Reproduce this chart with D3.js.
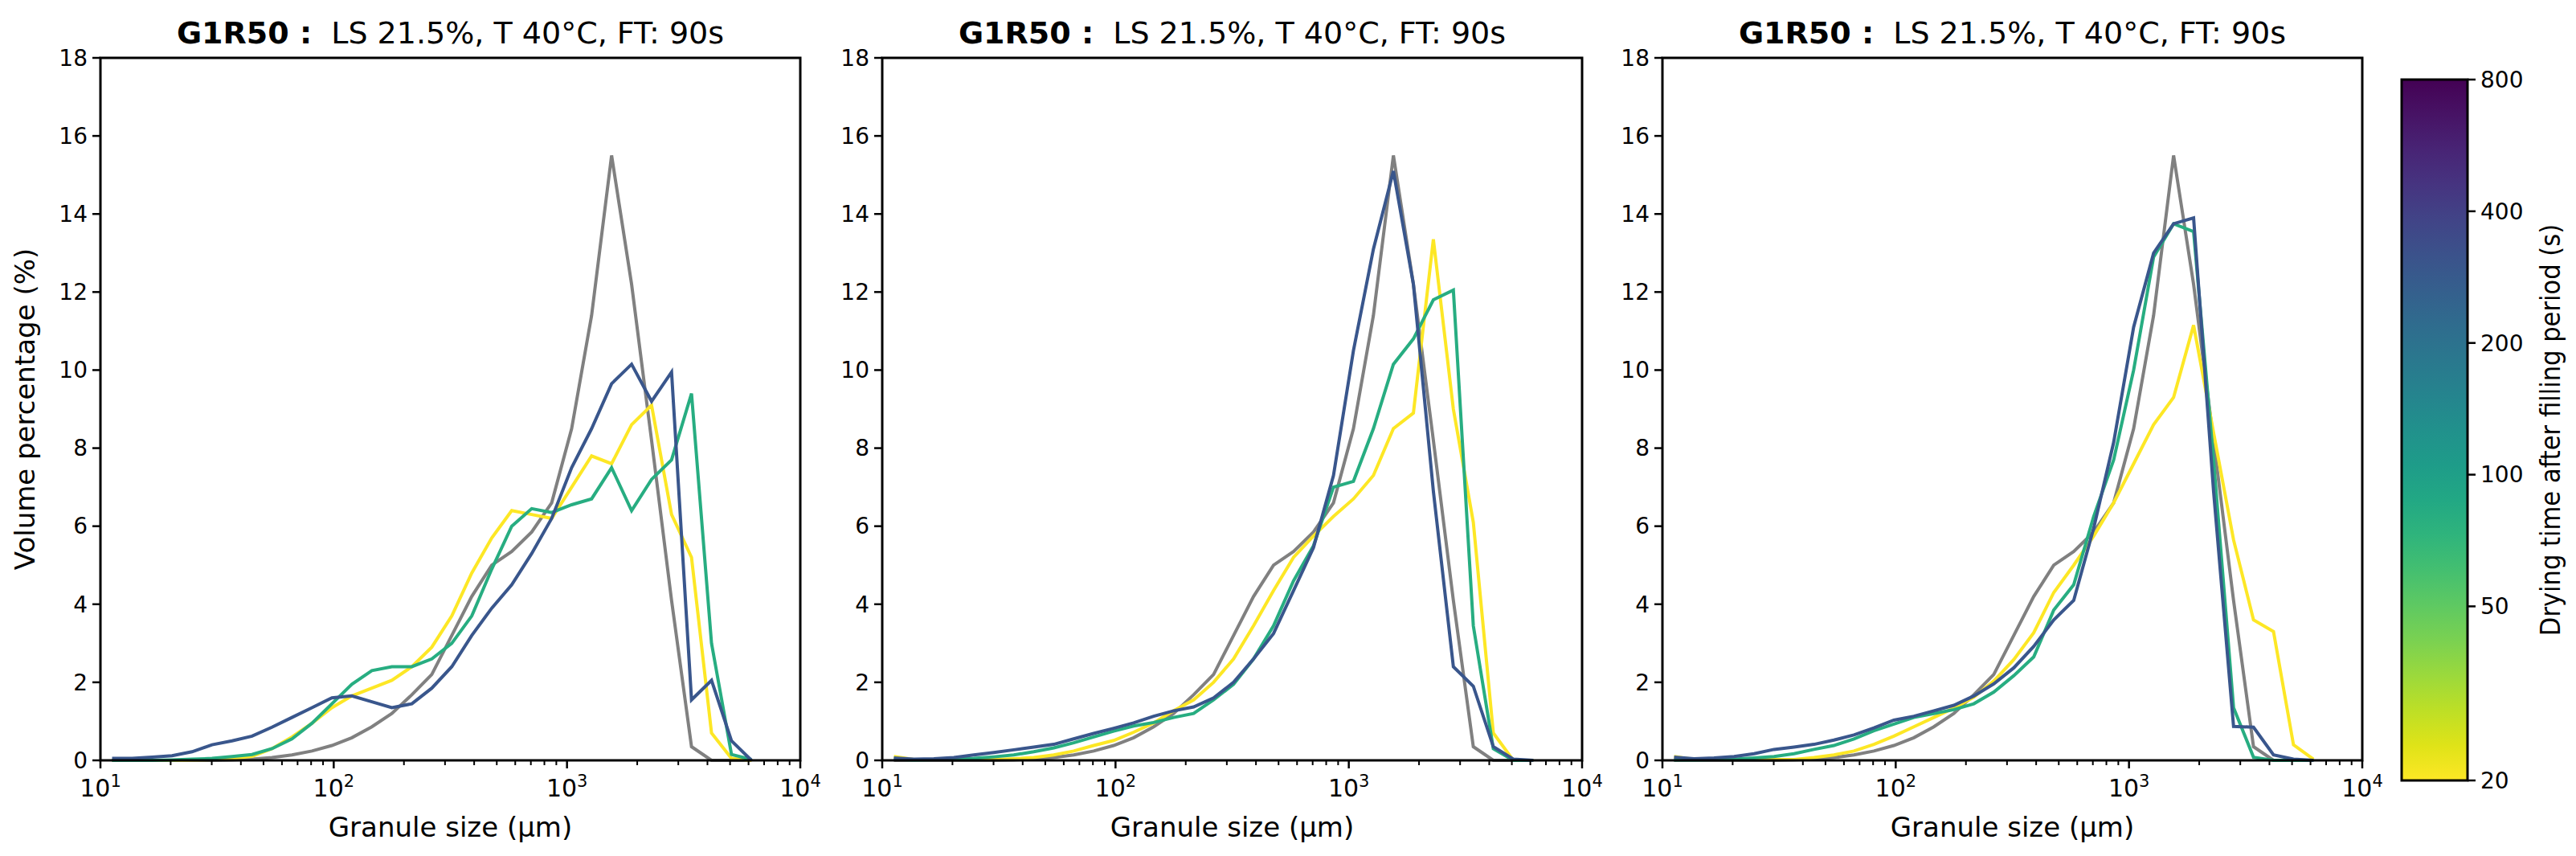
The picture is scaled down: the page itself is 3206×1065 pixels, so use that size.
<!DOCTYPE html>
<html>
<head>
<meta charset="utf-8">
<script src="https://cdn.jsdelivr.net/npm/d3@7"></script>
<style>
  body { margin: 0; background: #fff; }
  text { font-family: "DejaVu Sans", sans-serif; }
</style>
</head>
<body>
<svg id="chart" width="3206" height="1065"></svg>
<script>
// granule size bins (µm)
var sizes = [11.22, 13.67, 16.65, 20.28, 24.70, 30.08, 36.64, 44.63, 54.36, 66.21, 80.64,
  98.22, 119.6, 145.7, 177.5, 216.2, 263.3, 320.7, 390.6, 475.8, 579.5, 705.8, 859.7,
  1047, 1275, 1553, 1892, 2304, 2807, 3418, 4164, 5071, 6177];

// drying times of the coloured series (s)
var dryTimes = [20, 80, 300];

// reference curve (gray), same in every panel
var grayRef = [0, 0, 0, 0, 0, 0, 0.01, 0.03, 0.07, 0.14, 0.24, 0.38, 0.58, 0.86, 1.2, 1.68,
  2.2, 3.2, 4.2, 5.0, 5.35, 5.85, 6.6, 8.5, 11.4, 15.5, 12.2, 8.2, 4.1, 0.35, 0, 0, 0];

var p1Yellow = [0, 0, 0, 0, 0.01, 0.02, 0.05, 0.1, 0.3, 0.6, 0.95, 1.35, 1.65, 1.85, 2.05, 2.4,
  2.9, 3.7, 4.8, 5.7, 6.4, 6.3, 6.2, 7.0, 7.8, 7.6, 8.6, 9.1, 6.3, 5.2, 0.7, 0.05, 0];
var p1Green = [0, 0, 0, 0.01, 0.03, 0.05, 0.1, 0.15, 0.3, 0.55, 0.95, 1.45, 1.95, 2.3, 2.4, 2.4,
  2.6, 3.0, 3.7, 4.9, 6.0, 6.45, 6.35, 6.55, 6.7, 7.5, 6.4, 7.2, 7.7, 9.4, 3.0, 0.15, 0.02];
var p1Blue = [0.05, 0.05, 0.08, 0.12, 0.22, 0.4, 0.5, 0.62, 0.85, 1.1, 1.35, 1.6, 1.65, 1.5,
  1.35, 1.45, 1.85, 2.4, 3.2, 3.9, 4.5, 5.3, 6.2, 7.5, 8.5, 9.65, 10.15, 9.2, 9.95, 1.55, 2.05, 0.5, 0];

var p2Yellow = [0.1, 0.02, 0.02, 0.02, 0.02, 0.02, 0.04, 0.07, 0.14, 0.24, 0.38, 0.51, 0.72,
  0.96, 1.27, 1.55, 2.0, 2.6, 3.45, 4.35, 5.2, 5.75, 6.25, 6.7, 7.3, 8.5, 8.9, 13.35, 9.0, 6.1, 0.7, 0, 0];
var p2Green = [0.03, 0.01, 0.02, 0.03, 0.05, 0.09, 0.14, 0.22, 0.32, 0.45, 0.6, 0.75, 0.88,
  0.97, 1.1, 1.2, 1.55, 1.95, 2.6, 3.45, 4.6, 5.5, 7.0, 7.15, 8.5, 10.15, 10.8, 11.8, 12.05, 3.45, 0.3, 0, 0];
var p2Blue = [0.06, 0.03, 0.04, 0.07, 0.14, 0.2, 0.27, 0.34, 0.41, 0.55, 0.69, 0.82, 0.96,
  1.13, 1.27, 1.37, 1.6, 2.0, 2.6, 3.25, 4.35, 5.45, 7.3, 10.5, 13.1, 15.1, 12.2, 6.9, 2.4, 1.9, 0.35, 0.03, 0];

var p3Yellow = [0.1, 0.02, 0.02, 0.02, 0.02, 0.02, 0.02, 0.07, 0.14, 0.24, 0.41, 0.62, 0.86,
  1.1, 1.34, 1.62, 2.03, 2.58, 3.27, 4.3, 5.0, 5.75, 6.6, 7.6, 8.6, 9.3, 11.15, 8.4, 5.65, 3.6, 3.3, 0.4, 0.03];
var p3Green = [0.01, 0.01, 0.02, 0.03, 0.06, 0.1, 0.17, 0.28, 0.38, 0.55, 0.76, 0.93, 1.1,
  1.2, 1.3, 1.45, 1.75, 2.17, 2.65, 3.85, 4.5, 6.25, 7.7, 10.0, 12.9, 13.75, 13.55, 7.7, 1.35, 0.08, 0, 0, 0];
var p3Blue = [0.08, 0.04, 0.06, 0.1, 0.17, 0.28, 0.34, 0.41, 0.52, 0.65, 0.83, 1.03, 1.13,
  1.27, 1.41, 1.65, 1.96, 2.37, 2.92, 3.6, 4.1, 5.95, 8.15, 11.1, 13.0, 13.75, 13.9, 6.9, 0.87, 0.85, 0.14, 0.03, 0];

var panels = [
  [p1Yellow, p1Green, p1Blue],
  [p2Yellow, p2Green, p2Blue],
  [p3Yellow, p3Green, p3Blue]
];

var yTicks = [0, 2, 4, 6, 8, 10, 12, 14, 16, 18];
var cbTicks = [20, 50, 100, 200, 400, 800];

var svg = d3.select('#chart');
var panelLeft = [125, 1098, 2069],
    pw = 871,
    plotTop = 72,
    plotBottom = 946,
    ph = plotBottom - plotTop;

var color = d3.scaleLog().domain([20, 800]).range([1, 0]);
var cmap = function(t){ return d3.interpolateViridis(color(t)); };

var x = d3.scaleLog().domain([10, 10000]).range([0, pw]);
var y = d3.scaleLinear().domain([0, 18]).range([ph, 0]);

var line = d3.line()
  .x(function(d, i){ return x(sizes[i]); })
  .y(function(d){ return y(d); });

var minorTicks = [];
[10, 100, 1000].forEach(function(dec){
  for (var k = 2; k <= 9; k++) minorTicks.push(dec * k);
});

panels.forEach(function(series, p){
  var g = svg.append('g').attr('transform', 'translate(' + panelLeft[p] + ',' + plotTop + ')');

  // grey reference, then drying-time series
  g.append('path').attr('d', line(grayRef))
    .attr('fill', 'none').attr('stroke', '#808080').attr('stroke-width', 4);
  series.forEach(function(s, k){
    g.append('path').attr('d', line(s))
      .attr('fill', 'none').attr('stroke', cmap(dryTimes[k])).attr('stroke-width', 4);
  });

  g.append('rect').attr('width', pw).attr('height', ph)
    .attr('fill', 'none').attr('stroke', '#000').attr('stroke-width', 3);

  // y axis
  yTicks.forEach(function(t){
    g.append('line').attr('x1', -10).attr('x2', 0).attr('y1', y(t)).attr('y2', y(t))
      .attr('stroke', '#000').attr('stroke-width', 2.5);
    g.append('text').attr('x', -16).attr('y', y(t)).attr('dy', '0.35em')
      .attr('text-anchor', 'end').attr('font-size', 28).text(t);
  });

  // x axis
  minorTicks.forEach(function(t){
    g.append('line').attr('x1', x(t)).attr('x2', x(t)).attr('y1', ph).attr('y2', ph + 6)
      .attr('stroke', '#000').attr('stroke-width', 2);
  });
  [1, 2, 3, 4].forEach(function(e){
    var xv = x(Math.pow(10, e));
    g.append('line').attr('x1', xv).attr('x2', xv).attr('y1', ph).attr('y2', ph + 10)
      .attr('stroke', '#000').attr('stroke-width', 2.5);
    var tx = g.append('text').attr('x', xv).attr('y', ph + 45)
      .attr('text-anchor', 'middle').attr('font-size', 30);
    tx.append('tspan').text('10');
    tx.append('tspan').attr('dy', -12).attr('font-size', 21).text(e);
  });

  g.append('text').attr('x', pw / 2).attr('y', ph + 95)
    .attr('text-anchor', 'middle').attr('font-size', 34).text('Granule size (µm)');

  var title = g.append('text').attr('x', pw / 2).attr('y', -18)
    .attr('text-anchor', 'middle').attr('font-size', 38);
  title.append('tspan').attr('font-weight', 'bold').text('G1R50 :');
  title.append('tspan').text('\u00a0 LS 21.5%, T 40°C, FT: 90s');

  if (p === 0) {
    g.append('text').attr('transform', 'translate(-82,' + ph / 2 + ') rotate(-90)')
      .attr('text-anchor', 'middle').attr('font-size', 34).text('Volume percentage (%)');
  }
});

// colourbar
var cbX = 2989, cbW = 82, cbTop = 99, cbBot = 971;
var defs = svg.append('defs');
var grad = defs.append('linearGradient').attr('id', 'vir')
  .attr('x1', 0).attr('y1', 1).attr('x2', 0).attr('y2', 0);
d3.range(0, 1.0001, 0.05).forEach(function(o){
  grad.append('stop').attr('offset', o).attr('stop-color', d3.interpolateViridis(1 - o));
});
svg.append('rect').attr('x', cbX).attr('y', cbTop).attr('width', cbW).attr('height', cbBot - cbTop)
  .attr('fill', 'url(#vir)').attr('stroke', '#000').attr('stroke-width', 3);
var cy = d3.scaleLog().domain([20, 800]).range([cbBot, cbTop]);
cbTicks.forEach(function(t){
  svg.append('line').attr('x1', cbX + cbW).attr('x2', cbX + cbW + 10).attr('y1', cy(t)).attr('y2', cy(t))
    .attr('stroke', '#000').attr('stroke-width', 2.5);
  svg.append('text').attr('x', cbX + cbW + 16).attr('y', cy(t)).attr('dy', '0.35em')
    .attr('font-size', 28).text(t);
});
svg.append('text').attr('transform', 'translate(3186,' + (cbTop + cbBot) / 2 + ') rotate(-90)')
  .attr('text-anchor', 'middle').attr('font-size', 34)
  .style('font-family', '"DejaVu Sans Condensed", "DejaVu Sans", sans-serif')
  .text('Drying time after filling period (s)');
</script>
</body>
</html>
